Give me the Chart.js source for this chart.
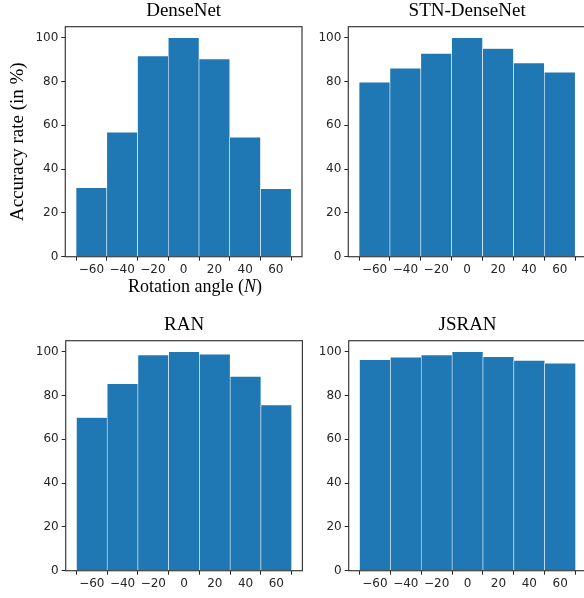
<!DOCTYPE html>
<html><head><meta charset="utf-8">
<script src="https://cdn.jsdelivr.net/npm/chart.js@4.4.1/dist/chart.umd.min.js"></script>
<style>
html,body{margin:0;padding:0;background:#fff;overflow:hidden;width:584px;height:598px;position:relative;}
canvas{position:absolute;}
</style></head><body>
<canvas id="c1"></canvas><canvas id="c2"></canvas><canvas id="c3"></canvas><canvas id="c4"></canvas>
<script>
// ---- data ----
const angles = [-60, -40, -20, 0, 20, 40, 60];
const xTickValues = [-60, -40, -20, 0, 20, 40, 60];
const xTickLabels = ['\u221260', '\u221240', '\u221220', '0', '20', '40', '60'];
const yTickValues = [0, 20, 40, 60, 80, 100];
const yTickLabels = ['0', '20', '40', '60', '80', '100'];
const denseNet    = [31.5, 56.8, 91.6, 100, 90.3, 54.5, 31.0];
const stnDenseNet = [79.6, 86.0, 92.8, 100, 95.0, 88.4, 84.2];
const ran         = [69.9, 85.4, 98.5, 100, 98.8, 88.7, 75.6];
const jsran       = [96.3, 97.4, 98.5, 100, 97.7, 96.0, 94.7];
const titles = ['DenseNet', 'STN-DenseNet', 'RAN', 'JSRAN'];
const yLabel = 'Accuracy rate (in %)';
const xLabelParts = [['Rotation angle (', 'normal'], ['N', 'italic'], [')', 'normal']];

const SERIF = "'Liberation Serif', 'Times New Roman', serif";
const SANS = "'DejaVu Sans', sans-serif";
const BAR = '#1f77b4';
const INK = '#262626';

const boxPlugin = {
  id: 'box',
  afterDatasetsDraw(chart) {
    const a = chart.chartArea, ctx = chart.ctx;
    ctx.save();
    ctx.strokeStyle = '#3a3a3a';
    ctx.lineWidth = 1.2;
    ctx.strokeRect(a.left, a.top, a.right - a.left, a.bottom - a.top);
    ctx.restore();
  }
};
const richLabelPlugin = {
  id: 'richLabel',
  afterDraw(chart, args, opts) {
    if (!opts || !opts.parts) return;
    const ctx = chart.ctx;
    ctx.save();
    ctx.fillStyle = '#000';
    ctx.textBaseline = 'alphabetic';
    ctx.textAlign = 'left';
    let total = 0;
    const widths = opts.parts.map(([t, s]) => { ctx.font = s + ' ' + opts.size + 'px ' + SERIF; const w = ctx.measureText(t).width; total += w; return w; });
    let x = opts.cx - total / 2;
    opts.parts.forEach(([t, s], i) => { ctx.font = s + ' ' + opts.size + 'px ' + SERIF; ctx.fillText(t, x, opts.baseline); x += widths[i]; });
    ctx.restore();
  }
};

const panels = [
  { id: 'c1', title: titles[0], values: denseNet,    cv: {x: 0,   y: 0,   w: 310, h: 300}, area: {l: 65.3,  t: 26.7,  r: 302,   b: 256.7}, yTitle: true,  xTitle: true },
  { id: 'c2', title: titles[1], values: stnDenseNet, cv: {x: 290, y: 0,   w: 300, h: 300}, area: {l: 348.3, t: 26.7,  r: 586,   b: 256.7} },
  { id: 'c3', title: titles[2], values: ran,         cv: {x: 0,   y: 300, w: 310, h: 298}, area: {l: 65.7,  t: 340.7, r: 302.4, b: 570.7} },
  { id: 'c4', title: titles[3], values: jsran,       cv: {x: 290, y: 300, w: 300, h: 298}, area: {l: 348.7, t: 340.7, r: 586.4, b: 570.7} }
];

panels.forEach(p => {
  const el = document.getElementById(p.id);
  el.width = p.cv.w; el.height = p.cv.h;
  el.style.left = p.cv.x + 'px'; el.style.top = p.cv.y + 'px';
  el.style.width = p.cv.w + 'px'; el.style.height = p.cv.h + 'px';
  const titleH = p.area.t - p.cv.y;
  const titleFont = 19;
  const baseline = titleH - 10.2;          // title baseline relative to canvas
  const mid = baseline - 0.305 * titleFont;  // em-box middle
  const padTop = mid - titleFont / 2;
  const padBottom = titleH - titleFont - padTop;
  new Chart(el, {
    type: 'bar',
    data: {
      datasets: [{
        data: angles.map((a, i) => ({ x: a, y: p.values[i] })),
        backgroundColor: BAR,
        borderColor: '#ffffff',
        borderWidth: 0.6,
        borderSkipped: 'start',
        barPercentage: 1,
        categoryPercentage: 1
      }]
    },
    options: {
      responsive: false,
      animation: false,
      devicePixelRatio: 1,
      layout: { padding: { left: 0, top: 0, bottom: 0, right: p.cv.x + p.cv.w - p.area.r } },
      plugins: {
        legend: { display: false },
        tooltip: { enabled: false },
        title: {
          display: true, text: p.title, fullSize: false, color: '#000',
          font: { family: SERIF, size: titleFont, weight: 'normal', lineHeight: 1 },
          padding: { top: padTop, bottom: padBottom }
        },
        richLabel: p.xTitle ? { parts: xLabelParts, size: 18, cx: 195 - p.cv.x, baseline: 292 - p.cv.y } : {}
      },
      scales: {
        x: {
          type: 'linear', min: -77, max: 77, bounds: 'data', offset: false,
          afterBuildTicks: s => { s.ticks = xTickValues.map(v => ({ value: v })); },
          afterFit: s => { s.height = p.cv.y + p.cv.h - p.area.b; },
          ticks: { autoSkip: false, maxRotation: 0, padding: 2, color: INK,
                   font: { family: SANS, size: 12 },
                   callback: (v) => xTickLabels[xTickValues.indexOf(v)] },
          grid: { display: true, drawOnChartArea: false, drawTicks: true, tickLength: 4, color: INK, lineWidth: 1 },
          border: { display: false }
        },
        y: {
          type: 'linear', min: 0, max: 105, bounds: 'data',
          afterBuildTicks: s => { s.ticks = yTickValues.map(v => ({ value: v })); },
          afterFit: s => { s.width = p.area.l - p.cv.x; },
          ticks: { padding: 3, color: INK, font: { family: SANS, size: 12 },
                   callback: (v) => yTickLabels[yTickValues.indexOf(v)] },
          grid: { display: true, drawOnChartArea: false, drawTicks: true, tickLength: 4, color: INK, lineWidth: 1 },
          border: { display: false },
          title: p.yTitle ? { display: true, text: yLabel, color: '#000',
                   font: { family: SERIF, size: 19, weight: 'normal', lineHeight: 1.2 },
                   padding: { top: 7, bottom: 0 } } : { display: false }
        }
      }
    },
    plugins: [boxPlugin, richLabelPlugin]
  });
});
</script>
</body></html>
